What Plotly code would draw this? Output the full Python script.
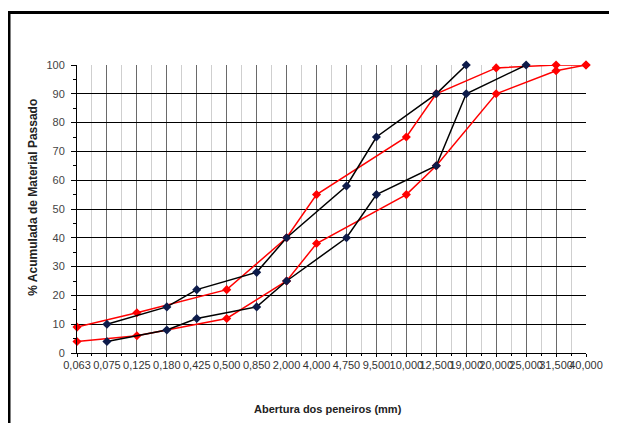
import plotly.graph_objects as go

categories = ["0,063", "0,075", "0,125", "0,180", "0,425", "0,500", "0,850", "2,000",
              "4,000", "4,750", "9,500", "10,000", "12,500", "19,000", "20,000",
              "25,000", "31,500", "40,000"]

black_upper = [None, 10, None, 16, 22, None, 28, 40, None, 58, 75, None, 90, 100, None, None, None, None]
black_lower = [None, 4, None, 8, 12, None, 16, 25, None, 40, 55, None, 65, 90, None, 100, None, None]
red_upper = [9, None, 14, None, None, 22, None, 40, 55, None, None, 75, 90, None, 99, None, 100, 100]
red_lower = [4, None, 6, None, None, 12, None, 25, 38, None, None, 55, 65, None, 90, None, 98, 100]

y_ticks = list(range(0, 101, 10))

xi = list(range(len(categories)))

fig = go.Figure()

def add_series(vals, line_color, marker_color):
    fig.add_trace(go.Scatter(
        x=xi, y=vals, mode="lines+markers", connectgaps=True,
        line=dict(color=line_color, width=1.5),
        marker=dict(symbol="diamond", size=7, color=marker_color, line=dict(width=0)),
        cliponaxis=False, hoverinfo="skip"))

add_series(red_upper, "#ff0000", "#ff0000")
add_series(red_lower, "#ff0000", "#ff0000")
add_series(black_upper, "#000000", "#0d1b4a")
add_series(black_lower, "#000000", "#0d1b4a")

# page has an 8px body margin; figure placed so plot area lands at x 77-586, y 65-345
OFF = 8
fig.update_layout(
    width=617 - OFF, height=423 - OFF,
    margin=dict(l=77 - OFF, r=31, t=65 - OFF, b=78 - OFF),
    paper_bgcolor="white", plot_bgcolor="white",
    showlegend=False,
    font=dict(family="Arial, Liberation Sans, sans-serif", color="#333333"),
)

fig.update_xaxes(
    range=[0, len(categories) - 1],
    tickmode="array", tickvals=xi, ticktext=categories, tickangle=0,
    tickfont=dict(size=11, color="#333333"),
    showgrid=True, gridcolor="#6a6a6a", gridwidth=1,
    minor=dict(tickvals=[i + 0.5 for i in xi[:-1]], showgrid=True, gridcolor="#cfcfcf",
               gridwidth=1, ticks="outside", ticklen=2, tickcolor="black"),
    showline=True, linecolor="black", linewidth=1,
    ticks="outside", ticklen=3, tickcolor="black",
    ticklabelstandoff=-1,
    zeroline=False,
)

fig.update_yaxes(
    range=[0, 100], tickmode="array", tickvals=y_ticks, ticktext=[str(v) for v in y_ticks],
    tickfont=dict(size=11, color="#444444"),
    showgrid=True, gridcolor="black", gridwidth=1,
    minor=dict(dtick=5, ticks="outside", ticklen=3, tickcolor="black", showgrid=False),
    showline=True, linecolor="black", linewidth=1,
    ticks="outside", ticklen=5, tickcolor="black",
    ticklabelstandoff=4,
    zeroline=False,
)

fig.add_annotation(
    text="<b>Abertura dos peneiros (mm)</b>", xref="paper", yref="paper",
    x=(328 - 77) / 509, y=(345 - 399) / 280, showarrow=False,
    font=dict(size=11, color="#222222"), xanchor="center", yanchor="middle")

fig.add_annotation(
    text="<b>% Acumulada de Material Passado</b>", xref="paper", yref="paper",
    x=(33 - 77) / 509, y=(345 - 194) / 280, showarrow=False, textangle=-90,
    font=dict(size=12, color="#222222"), xanchor="center", yanchor="middle")

fig.add_shape(
    type="rect", xref="paper", yref="paper",
    x0=(9 - 77) / 509, x1=(640 - 77) / 509,
    y0=(345 - 450) / 280, y1=(345 - 14) / 280,
    line=dict(color="black", width=3), fillcolor="rgba(0,0,0,0)", layer="above")

fig.write_html("out.html")
